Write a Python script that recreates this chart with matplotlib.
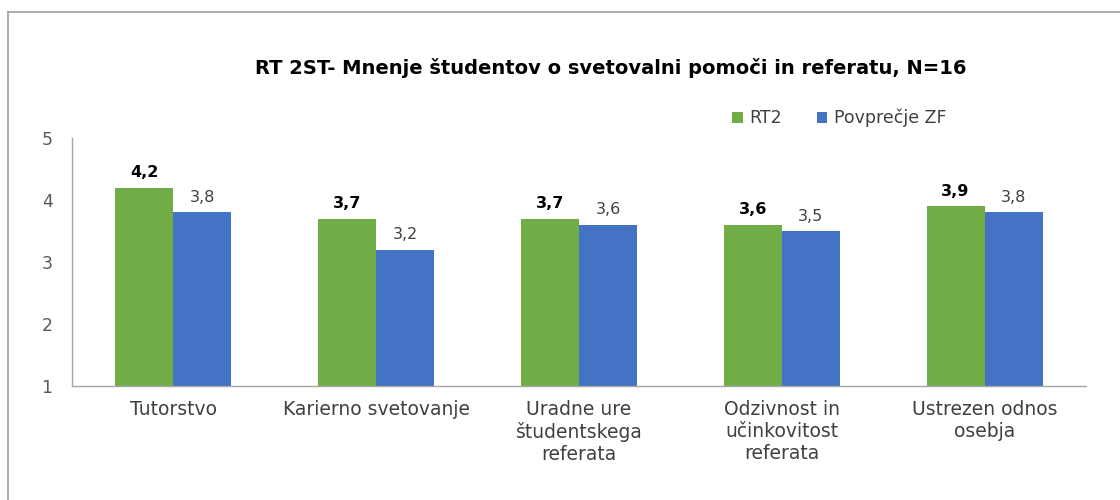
import matplotlib.pyplot as plt
import numpy as np
from matplotlib.lines import Line2D

plt.rcParams['font.family'] = ['DejaVu Sans']

categories = ["Tutorstvo", "Karierno svetovanje", "Uradne ure\nštudentskega\nreferata",
              "Odzivnost in\nučinkovitost\nreferata", "Ustrezen odnos\nosebja"]
rt2 = [4.2, 3.7, 3.7, 3.6, 3.9]
povprecje_zf = [3.8, 3.2, 3.6, 3.5, 3.8]
series_names = ["RT2", "Povprečje ZF"]
title = "RT 2ST- Mnenje študentov o svetovalni pomoči in referatu, N=16"

green = "#70AD47"
blue = "#4472C4"


def fmt(v):
    return f"{v:.1f}".replace(".", ",")


def main():
    fig = plt.figure(figsize=(11.2, 5), dpi=100)
    ax = fig.add_axes([0.0643, 0.228, 0.9053, 0.496])

    x = np.arange(len(categories))
    w = 0.286
    ax.bar(x - w / 2, np.array(rt2) - 1, w, bottom=1, color=green, label=series_names[0])
    ax.bar(x + w / 2, np.array(povprecje_zf) - 1, w, bottom=1, color=blue, label=series_names[1])

    for xi, v in zip(x, rt2):
        ax.text(xi - w / 2, v + 0.12, fmt(v), ha='center', va='bottom',
                fontsize=11.5, fontweight='bold', color='black')
    for xi, v in zip(x, povprecje_zf):
        ax.text(xi + w / 2, v + 0.12, fmt(v), ha='center', va='bottom',
                fontsize=11.5, color='#404040')

    ax.set_xlim(-0.5, len(categories) - 0.5)
    ax.set_ylim(1, 5)
    ax.set_yticks([1, 2, 3, 4, 5])
    ax.set_xticks(x)
    ax.set_xticklabels(categories, fontsize=13.5, color='#404040', linespacing=1.2, va='top')
    ax.tick_params(axis='y', length=0, pad=14, labelsize=12.5, labelcolor='#595959')
    ax.tick_params(axis='x', length=0, pad=10)
    for s in ['top', 'right']:
        ax.spines[s].set_visible(False)
    for s in ['left', 'bottom']:
        ax.spines[s].set_color('#A6A6A6')
        ax.spines[s].set_linewidth(1)

    fig.text(0.545, 0.864, title, ha='center', va='center', fontsize=14, fontweight='bold',
             color='black')

    ax.legend(loc='center', bbox_to_anchor=(0.757, 1.08), ncol=2, frameon=False,
              fontsize=12.5, handlelength=0.6, handleheight=0.6, handletextpad=0.4,
              columnspacing=2.0, labelcolor='#404040')

    # chart border (cropped on the right and bottom)
    fig.add_artist(Line2D([0.0071, 1.0], [0.976, 0.976], color='#A0A0A0', lw=1.2,
                          transform=fig.transFigure))
    fig.add_artist(Line2D([0.0071, 0.0071], [0.0, 0.976], color='#A0A0A0', lw=1.2,
                          transform=fig.transFigure))

    fig.savefig('out.png', dpi=100)


if __name__ == '__main__':
    main()
